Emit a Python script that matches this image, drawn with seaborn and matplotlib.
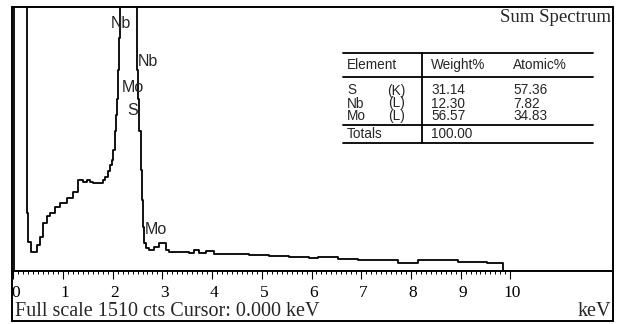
import numpy as np
import pandas as pd
import seaborn as sns
import matplotlib.pyplot as plt
from matplotlib.patches import Rectangle
from matplotlib.lines import Line2D
from matplotlib.transforms import ScaledTranslation

# ---------------- DATA ----------------
# spectrum (keV, counts); off-scale peaks set above full scale
energy = [0.00, 0.02, 0.26, 0.27, 0.30, 0.36, 0.44, 0.48, 0.54, 0.60, 0.68, 0.74,
          0.84, 0.94, 1.08, 1.20, 1.30, 1.40, 1.48, 1.54, 1.60, 1.74, 1.80, 1.84,
          1.90, 1.94, 1.98, 2.00, 2.04, 2.06, 2.08, 2.10, 2.12, 2.14, 2.46, 2.48,
          2.50, 2.52, 2.56, 2.58, 2.60, 2.62, 2.66, 2.74, 2.84, 2.94, 3.04, 3.08,
          3.14, 3.54, 3.64, 3.74, 3.88, 4.04, 4.34, 4.74, 5.14, 5.54, 5.94, 6.14,
          6.54, 6.94, 7.74, 8.14, 8.54, 8.94, 9.54, 9.84, 9.86]
counts = [0, 3000, 3000, 330, 165, 108, 108, 150, 195, 275, 315, 332,
          366, 389, 418, 452, 520, 509, 520, 509, 503, 503, 520, 538,
          572, 606, 635, 692, 800, 892, 984, 1150, 1330, 3000, 3000, 1150,
          984, 800, 580, 406, 252, 160, 132, 120, 137, 160, 160, 120,
          109, 103, 120, 103, 114, 97, 97, 92, 86, 80, 74, 80,
          69, 63, 46, 63, 63, 52, 46, 46, 0]
full_scale = 1510

peak_labels = ["Nb", "Nb", "Mo", "S", "Mo"]
peak_energy = [1.97, 2.50, 2.18, 2.30, 2.64]
peak_counts = [1418, 1198, 1052, 920, 235]

elements = ["S", "Nb", "Mo"]
lines = ["(K)", "(L)", "(L)"]
weight_pct = ["31.14", "12.30", "56.57"]
atomic_pct = ["57.36", "7.82", "34.83"]
total_weight = "100.00"

# ---------------- LAYOUT (pixels) ----------------
W, H = 618, 324
X0, KEV = 13.3, 49.7      # pixel of 0 keV, pixels per keV
LEFT, RIGHT, TOP, BASE = 12, 613, 7, 271

sns.set_style("white")
plt.rcParams["font.family"] = ["Liberation Sans", "DejaVu Sans"]


def fx(x):
    return x / W


def fy(y):
    return 1 - y / H


fig = plt.figure(figsize=(W / 100, H / 100), dpi=100)
ax = fig.add_axes([fx(LEFT), fy(BASE), (RIGHT - LEFT) / W, (BASE - TOP) / H])

df = pd.DataFrame({"keV": energy, "cts": counts})
sns.lineplot(data=df, x="keV", y="cts", ax=ax, color="black", linewidth=1.3,
             drawstyle="steps-post", sort=False)

ax.set_xlim((LEFT - X0) / KEV, (RIGHT - X0) / KEV)
ax.set_ylim(0, full_scale)
ax.set_xlabel("")
ax.set_ylabel("")
ax.set_yticks([])
for side in ["left", "top", "right"]:
    ax.spines[side].set_visible(False)
ax.spines["bottom"].set_linewidth(1.2)
ax.spines["bottom"].set_color("black")

ax.set_xticks(np.arange(0, 11, 1))
ax.set_xticks(np.arange(0, 10.01, 0.1), minor=True)
ax.set_xticklabels([str(i) for i in range(11)], family="Liberation Serif", fontsize=12.5)
ax.tick_params(axis="x", which="major", direction="out", length=5.5, width=0.8,
               pad=4.5, bottom=True, colors="black")
ax.tick_params(axis="x", which="minor", direction="out", length=2.5, width=0.7,
               bottom=True, colors="black")
# labels sit a little right of their ticks in the original
shift = ScaledTranslation(2 / 100, 0, fig.dpi_scale_trans)
for lbl in ax.get_xticklabels():
    lbl.set_transform(lbl.get_transform() + shift)

for lab, e, c in zip(peak_labels, peak_energy, peak_counts):
    ax.text(e, c, lab, fontsize=11.5, ha="left", va="center")

# outer frame
fig.patches.append(Rectangle((fx(LEFT), fy(321)), (RIGHT - LEFT) / W, (321 - TOP) / H,
                             transform=fig.transFigure, fill=False, lw=1.4,
                             edgecolor="black"))
fig.add_artist(Line2D([fx(LEFT), fx(RIGHT)], [fy(BASE), fy(BASE)], color="black", lw=1.2))

fig.text(fx(611), fy(18), "Sum Spectrum", family="Liberation Serif", fontsize=13.5,
         ha="right", va="center")
fig.text(fx(15), fy(311), "Full scale 1510 cts Cursor: 0.000 keV",
         family="Liberation Serif", fontsize=14.5, ha="left", va="center")
fig.text(fx(611), fy(311), "keV", family="Liberation Serif", fontsize=14.5,
         ha="right", va="center")

# ---------------- TABLE ----------------
tx0, tx1, tdiv = 343, 593, 422
for yy in [53, 77, 125, 143]:
    fig.add_artist(Line2D([fx(tx0), fx(tx1)], [fy(yy), fy(yy)], color="black", lw=1.3))
fig.add_artist(Line2D([fx(tdiv), fx(tdiv)], [fy(53), fy(143)], color="black", lw=1.3))

ts = 9.8
fig.text(fx(347), fy(65), "Element", fontsize=ts, va="center")
fig.text(fx(431), fy(65), "Weight%", fontsize=ts, va="center")
fig.text(fx(513), fy(65), "Atomic%", fontsize=ts, va="center")
for i, (el, ln, wt, at) in enumerate(zip(elements, lines, weight_pct, atomic_pct)):
    yy = 90.5 + i * 13
    fig.text(fx(347), fy(yy), el, fontsize=ts, va="center")
    fig.text(fx(405), fy(yy), ln, fontsize=ts, va="center", ha="right")
    fig.text(fx(431), fy(yy), wt, fontsize=ts, va="center")
    fig.text(fx(513), fy(yy), at, fontsize=ts, va="center")
fig.text(fx(347), fy(134), "Totals", fontsize=ts, va="center")
fig.text(fx(431), fy(134), total_weight, fontsize=ts, va="center")

fig.savefig("out.png", dpi=100)
